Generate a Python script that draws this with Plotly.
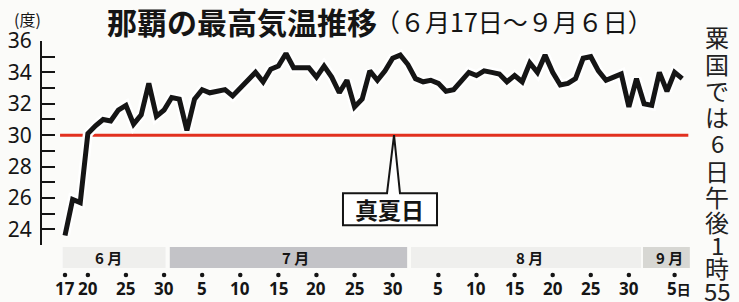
import plotly.graph_objects as go

# ---------------- data ----------------
# day index 0 = 6/17 ... 81 = 9/6
temps = [23.6, 25.9, 25.7, 30.1, 30.6, 31.0, 30.9, 31.6, 31.9, 30.7,
         31.3, 33.3, 31.2, 31.6, 32.4, 32.3, 30.3, 32.3, 32.9, 32.7,
         32.8, 32.9, 32.5, 33.0, 33.6, 34.0, 33.4, 34.2, 34.4, 35.2,
         34.3, 34.3, 34.3, 33.7, 34.4, 33.7, 32.7, 33.5, 31.8, 32.3,
         34.1, 33.5, 34.1, 34.9, 35.1, 34.5, 33.6, 33.4, 33.5, 33.3,
         32.8, 32.9, 33.4, 34.0, 33.8, 34.1, 34.0, 33.9, 33.4, 33.8,
         33.4, 34.6, 34.0, 35.1, 34.0, 33.2, 33.3, 33.6, 34.9, 35.0,
         34.1, 33.5, 33.7, 33.9, 31.8, 33.6, 32.0, 31.9, 34.0, 32.8,
         34.0, 33.6]
days = list(range(len(temps)))

tick_days = [0, 3, 8, 13, 18, 23, 28, 33, 38, 43, 49, 54, 59, 64, 69, 74, 80]
tick_labels = ["17", "20", "25", "30", "5", "10", "15", "20", "25", "30",
               "5", "10", "15", "20", "25", "30", "5<span style='font-size:14px'>日</span>"]

months = ["6 月", "7 月", "8 月", "9 月"]
month_start = [-0.3, 13.75, 45.4, 75.85]
month_end = [13.2, 44.9, 75.6, 82.0]
month_label_x = [5.7, 30.2, 61.0, 79.3]
month_colors = ["#efefed", "#c3c3c7", "#efefed", "#d7d7d3"]

threshold = 30
y_ticks = list(range(23, 37))
y_ticktext = [str(v) if (v % 2 == 0 and v >= 24) else "" for v in y_ticks]

side_chars = ["粟", "国", "で", "は", "6", "日", "午", "後", "1", "時", "55"]
side_y_px = [36, 64, 90, 116, 142, 170, 196, 221, 244, 267, 290]

# ---------------- layout helpers ----------------
W, H = 739, 302
ML, MR, MT, MB = 42, 39, 41, 7
PW, PH = W - ML - MR, H - MT - MB


def px_x(px):
    return (px - ML) / PW


def px_y(py):
    return (H - MB - py) / PH


BG = "#fbfbf9"
INK = "#151515"
FONT = "Noto Sans, Noto Sans CJK JP, sans-serif"
JFONT = "Noto Sans CJK JP, sans-serif"

fig = go.Figure()

# white casing under line
fig.add_trace(go.Scatter(x=days, y=temps, mode="lines",
                         line=dict(color="white", width=10),
                         hoverinfo="skip", showlegend=False))
fig.add_trace(go.Scatter(x=days, y=temps, mode="lines",
                         line=dict(color=INK, width=5),
                         showlegend=False))
# tick dots on bottom strip
fig.add_trace(go.Scatter(x=tick_days, y=[20] * len(tick_days), mode="markers",
                         marker=dict(color=INK, size=4.5),
                         xaxis="x", yaxis="y2", showlegend=False,
                         hoverinfo="skip"))

shapes = []
# red 30-degree line
shapes.append(dict(type="line", xref="x", yref="y", x0=-0.65, x1=81.8,
                   y0=threshold, y1=threshold,
                   line=dict(color="#e2301f", width=3), layer="below"))
# month bands
for s, e, c in zip(month_start, month_end, month_colors):
    shapes.append(dict(type="rect", xref="x", yref="y2", x0=s, x1=e,
                       y0=27, y1=48, fillcolor=c, line=dict(width=0),
                       layer="below"))
# callout box for 真夏日
path = ("M 42.26,26.30 L 36.48,26.30 L 36.48,24.26 L 48.82,24.26 "
        "L 48.82,26.30 L 43.96,26.30 L 43.18,30 Z")
shapes.append(dict(type="path", xref="x", yref="y", path=path,
                   fillcolor="white", line=dict(color=INK, width=2),
                   layer="above"))

annotations = []
annotations.append(dict(x=42.65, y=25.28, xref="x", yref="y", text="<b>真夏日</b>",
                        showarrow=False, font=dict(family=JFONT, size=23, color=INK)))
# title
annotations.append(dict(x=px_x(105), y=px_y(21), xref="paper", yref="paper",
                        text="<b>那覇の最高気温推移</b>", showarrow=False,
                        xanchor="left", yanchor="middle",
                        font=dict(family=JFONT, size=30, color=INK)))
annotations.append(dict(x=px_x(373), y=px_y(21), xref="paper", yref="paper",
                        text="（６月17日～９月６日）", showarrow=False,
                        xanchor="left", yanchor="middle",
                        font=dict(family=JFONT, size=25, color=INK)))
annotations.append(dict(x=px_x(27), y=px_y(19), xref="paper", yref="paper",
                        text="(度)", showarrow=False,
                        xanchor="center", yanchor="middle",
                        font=dict(family=JFONT, size=16, color=INK)))
# month labels
for m, xm in zip(months, month_label_x):
    annotations.append(dict(x=xm, y=37.5, xref="x", yref="y2", text="<b>%s</b>" % m,
                            showarrow=False, font=dict(family=JFONT, size=15, color=INK)))
# day labels
for d, t in zip(tick_days, tick_labels):
    annotations.append(dict(x=d, y=6.5, xref="x", yref="y2", text="<b>%s</b>" % t,
                            showarrow=False, xshift=(4 if d == 80 else 0),
                            font=dict(family=FONT, size=17, color=INK)))
# side vertical text
for ch, yy in zip(side_chars, side_y_px):
    annotations.append(dict(x=px_x(717), y=px_y(yy), xref="paper", yref="paper",
                            text=ch, showarrow=False, xanchor="center", yanchor="middle",
                            font=dict(family=JFONT, size=24, color="#222")))

fig.update_layout(
    width=W, height=H,
    margin=dict(l=ML, r=MR, t=MT, b=MB, pad=0),
    paper_bgcolor=BG, plot_bgcolor=BG,
    xaxis=dict(range=[(ML - 65) / 7.62, (ML + PW - 65) / 7.62], visible=False,
               anchor="y"),
    yaxis=dict(domain=[px_y(245), 1], range=[23, 36], tickvals=y_ticks,
               ticktext=y_ticktext, ticks="inside", ticklen=13, tickwidth=2,
               tickcolor=INK, showline=True, linecolor=INK, linewidth=2,
               showgrid=False, zeroline=False, ticklabelstandoff=4,
               tickfont=dict(family=FONT, size=21, color=INK)),
    yaxis2=dict(domain=[0, px_y(246.7)], range=[0, 48.3], visible=False,
                anchor="x"),
    shapes=shapes, annotations=annotations,
    showlegend=False,
)

fig.write_html("out.html",
               config={"displayModeBar": False},
               post_script="document.body.style.margin='0';"
                           "document.body.style.background='%s';" % BG)
